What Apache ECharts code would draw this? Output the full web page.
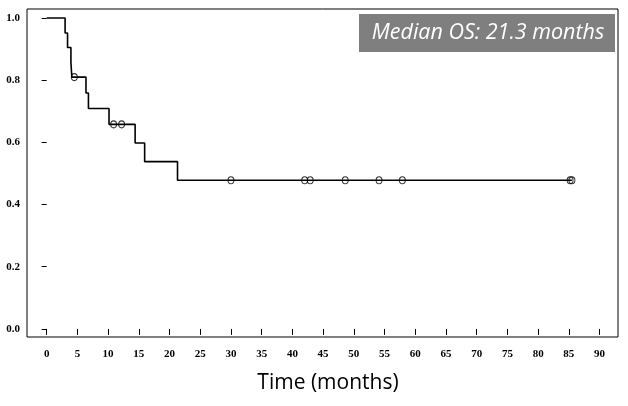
<!DOCTYPE html>
<html>
<head>
<meta charset="utf-8">
<script src="https://cdn.jsdelivr.net/npm/echarts@6/dist/echarts.min.js"></script>
<style>html,body{margin:0;padding:0;background:#fff;}#c{width:628px;height:406px;}</style>
</head>
<body>
<div id="c"></div>
<script>
// Kaplan-Meier step curve: event times (months) and survival after each event
var stepTimes = [0, 3.0, 3.4, 3.95, 4.1, 6.4, 6.8, 10.15, 14.4, 15.95, 21.3, 85.5];
var stepSurvival = [1.0, 0.952, 0.905, 0.857, 0.810, 0.759, 0.709, 0.658, 0.598, 0.538, 0.478, 0.478];
// Censored observations
var censorTimes = [4.5, 10.9, 12.2, 30.0, 42.0, 42.9, 48.6, 54.1, 57.9, 85.2, 85.5];
var censorSurvival = [0.810, 0.658, 0.658, 0.478, 0.478, 0.478, 0.478, 0.478, 0.478, 0.478, 0.478];
// Tick labels
var xTicks = [0, 5, 10, 15, 20, 25, 30, 35, 40, 45, 50, 55, 60, 65, 70, 75, 80, 85, 90];
var yTicks = [0.0, 0.2, 0.4, 0.6, 0.8, 1.0];
var xTitle = 'Time (months)';
var medianText = 'Median OS: 21.3 months';

var chart = echarts.init(document.getElementById('c'), null, {renderer: 'canvas'});
var stepData = stepTimes.map(function (t, i) { return [t, stepSurvival[i]]; });
var censorData = censorTimes.map(function (t, i) { return [t, censorSurvival[i]]; });
var tickFont = {fontFamily: 'Liberation Serif', fontWeight: 'bold', fontSize: 11, color: '#000'};

chart.setOption({
  animation: false,
  backgroundColor: '#fff',
  grid: {left: 27, right: 10, top: 9, bottom: 69, show: true, borderColor: '#000', borderWidth: 1, backgroundColor: 'transparent'},
  xAxis: {
    type: 'value', min: -3.2, max: 93,
    offset: 1,
    splitLine: {show: false},
    axisLine: {show: false},
    axisTick: {show: true, length: 6, lineStyle: {color: '#000', width: 1}, customValues: xTicks},
    axisLabel: Object.assign({customValues: xTicks, margin: 11, formatter: function (v) { return String(v); }}, tickFont)
  },
  yAxis: {
    type: 'value', min: -0.026, max: 1.029,
    splitLine: {show: false},
    axisLine: {show: false},
    axisTick: {show: true, length: 5, lineStyle: {color: '#000', width: 1}, customValues: yTicks},
    axisLabel: Object.assign({customValues: yTicks, margin: 7, formatter: function (v) { return v.toFixed(1); }}, tickFont)
  },
  series: [
    {
      type: 'line', step: 'end', data: stepData, showSymbol: false, symbol: 'none',
      lineStyle: {color: '#000', width: 1.6}, z: 2
    },
    {
      type: 'scatter', data: censorData, symbol: 'circle', symbolSize: [6, 7],
      itemStyle: {color: 'rgba(0,0,0,0)', borderColor: '#000', borderWidth: 1}, z: 3
    }
  ],
  graphic: [
    {type: 'rect', shape: {x: 359, y: 14, width: 256, height: 38}, style: {fill: '#7f7f7f'}, z: 10},
    {type: 'text', x: 488, y: 33, style: {text: medianText, fill: '#fff', font: 'italic 21.5px "Open Sans"', textAlign: 'center', textVerticalAlign: 'middle'}, z: 11},
    {type: 'text', x: 328, y: 383, style: {text: xTitle, fill: '#000', font: '21px "Open Sans"', textAlign: 'center', textVerticalAlign: 'middle'}, z: 11}
  ]
});
</script>
</body>
</html>
